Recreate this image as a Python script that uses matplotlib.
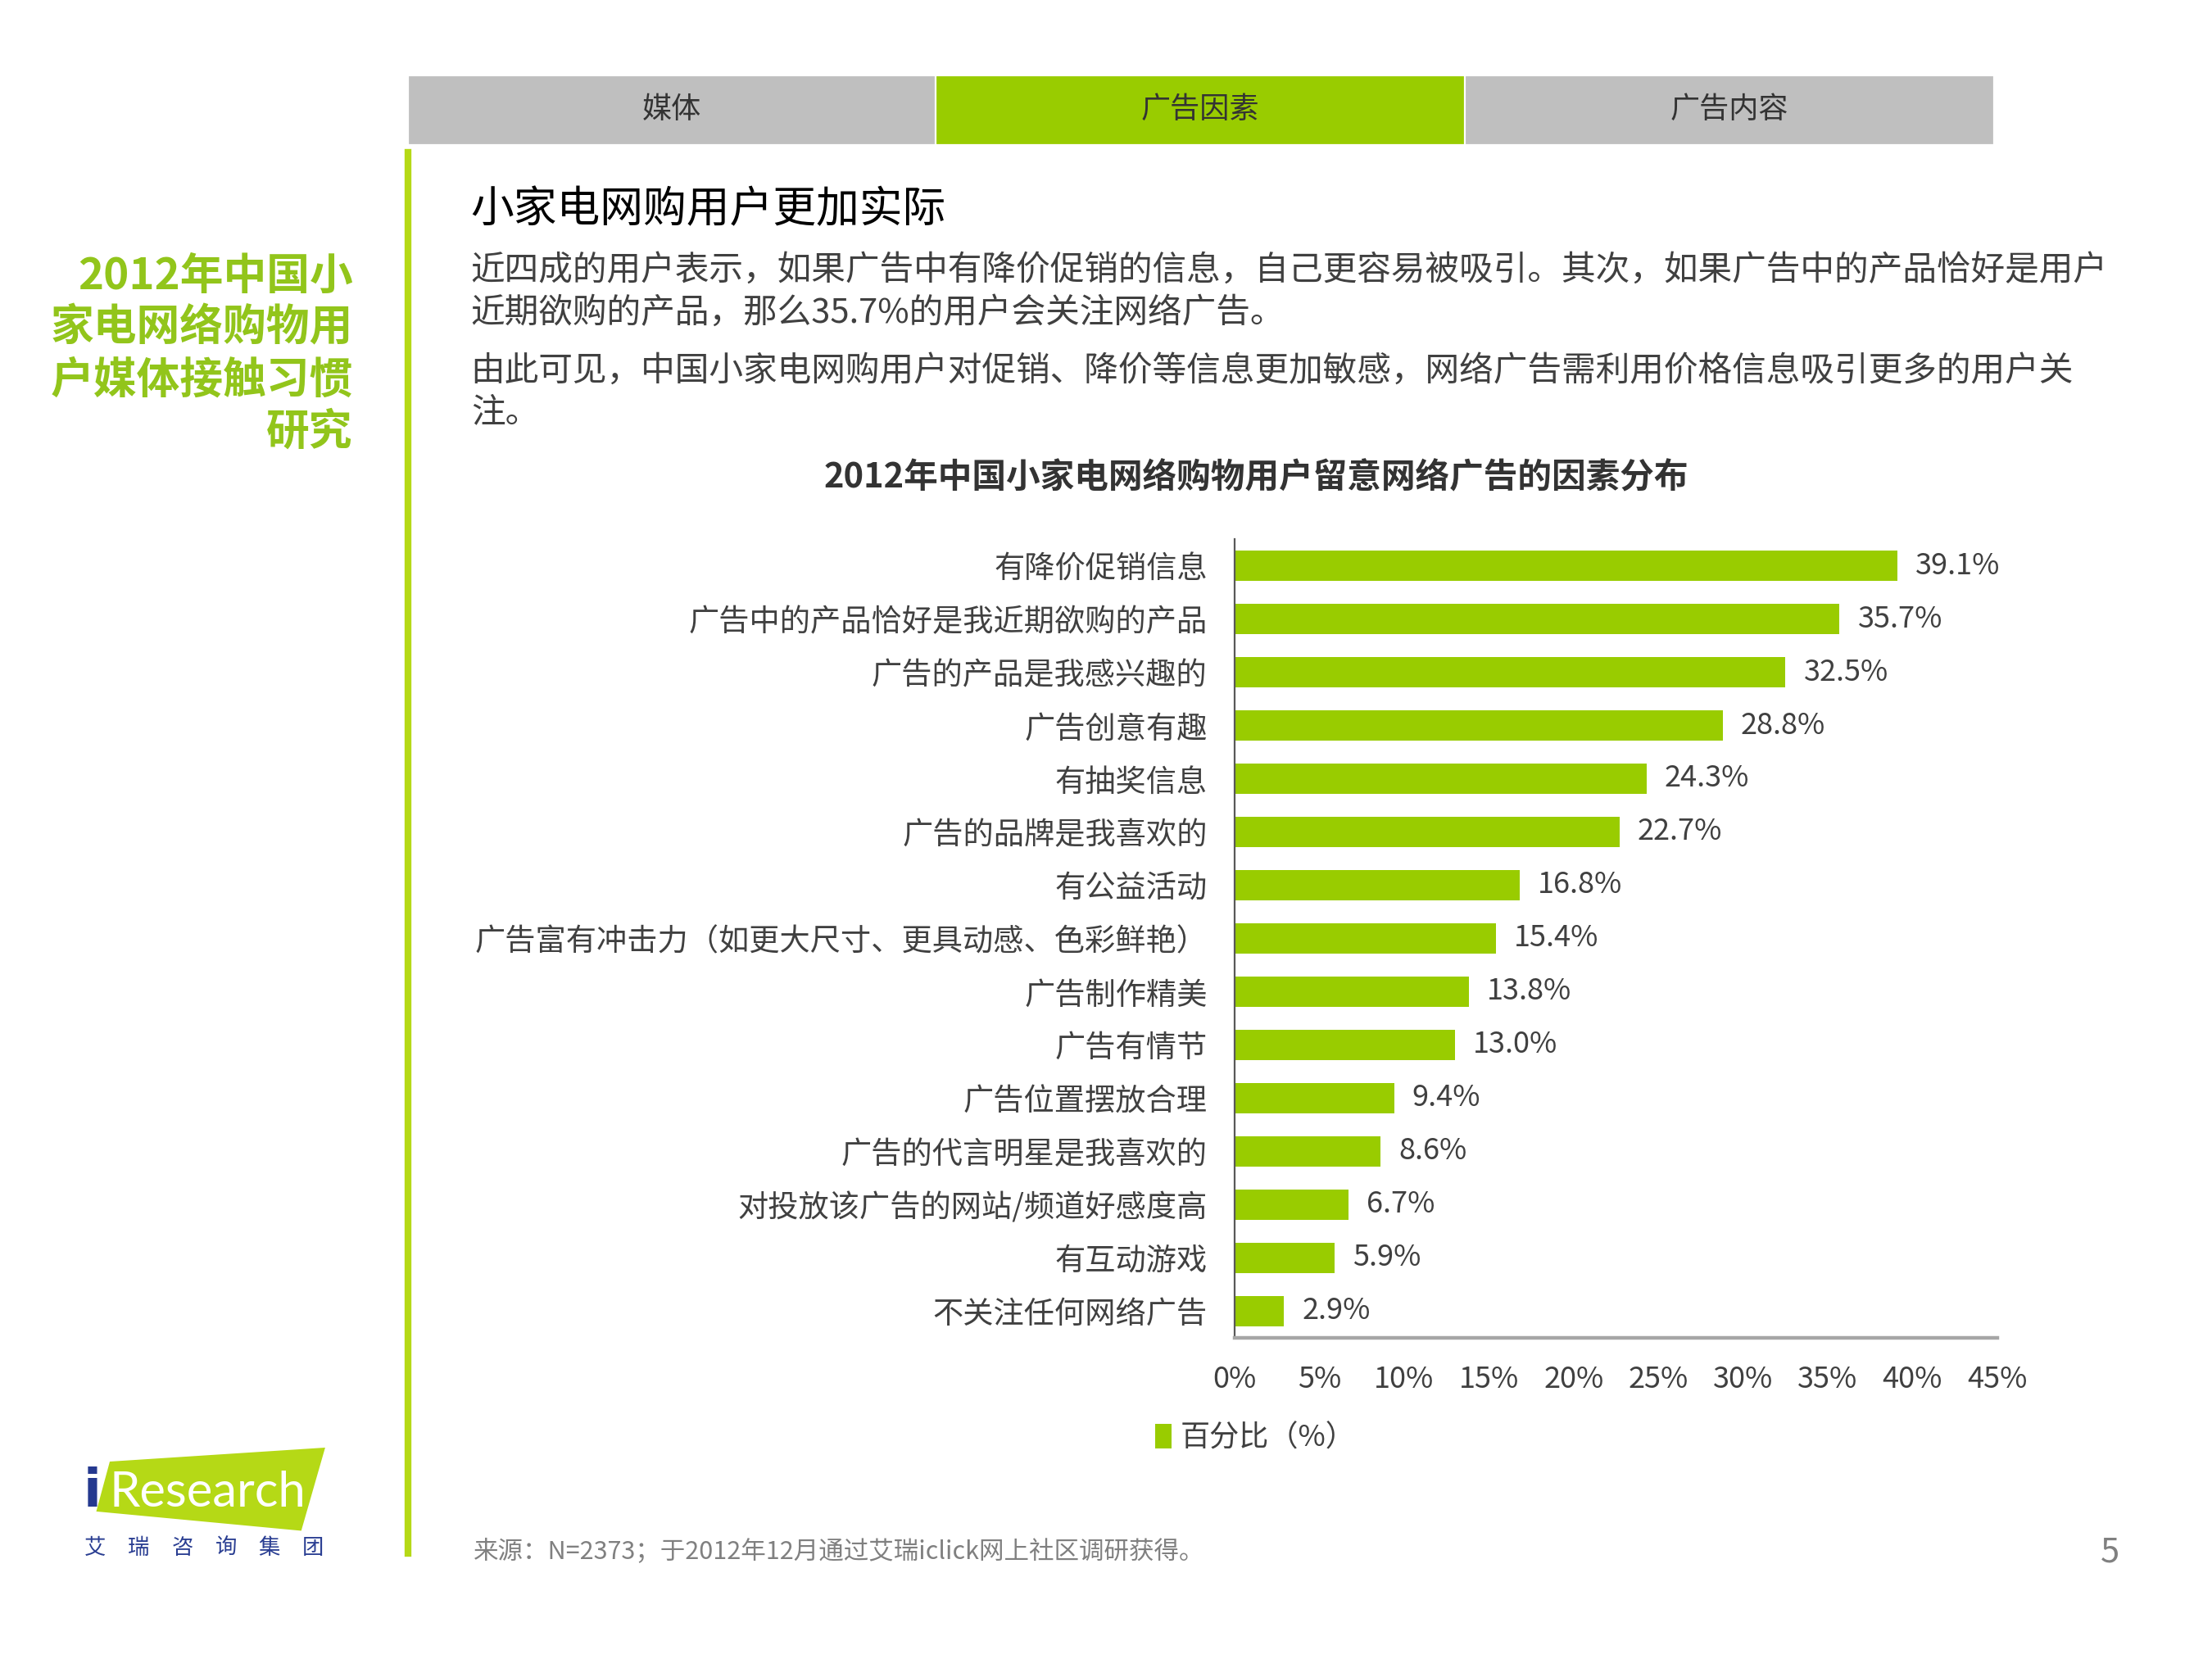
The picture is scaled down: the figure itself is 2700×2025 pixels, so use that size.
import numpy as np
import matplotlib
matplotlib.use("Agg")
import matplotlib.pyplot as plt
from matplotlib.patches import Polygon, Rectangle
from matplotlib.lines import Line2D

plt.rcParams['font.family'] = ['Noto Sans CJK SC', 'DejaVu Sans']

# Chart data
categories = [
    '有降价促销信息',
    '广告中的产品恰好是我近期欲购的产品',
    '广告的产品是我感兴趣的',
    '广告创意有趣',
    '有抽奖信息',
    '广告的品牌是我喜欢的',
    '有公益活动',
    '广告富有冲击力（如更大尺寸、更具动感、色彩鲜艳）',
    '广告制作精美',
    '广告有情节',
    '广告位置摆放合理',
    '广告的代言明星是我喜欢的',
    '对投放该广告的网站/频道好感度高',
    '有互动游戏',
    '不关注任何网络广告',
]
values = [39.1, 35.7, 32.5, 28.8, 24.3, 22.7, 16.8, 15.4, 13.8, 13.0, 9.4, 8.6, 6.7, 5.9, 2.9]
xticks = [0, 5, 10, 15, 20, 25, 30, 35, 40, 45]
series_name = '百分比（%）'

tabs = ['媒体', '广告因素', '广告内容']
side_title = ['2012年中国小', '家电网络购物用', '户媒体接触习惯', '研究']
heading = '小家电网购用户更加实际'
paragraph = [
    '近四成的用户表示，如果广告中有降价促销的信息，自己更容易被吸引。其次，如果广告中的产品恰好是用户',
    '近期欲购的产品，那么35.7%的用户会关注网络广告。',
    '由此可见，中国小家电网购用户对促销、降价等信息更加敏感，网络广告需利用价格信息吸引更多的用户关',
    '注。',
]
chart_title = '2012年中国小家电网络购物用户留意网络广告的因素分布'
source = '来源：N=2373；于2012年12月通过艾瑞iclick网上社区调研获得。'

GREEN = '#99cc00'
LIME = '#b5d916'
GRAY_TAB = '#bfbfbf'
TXT = '#404040'

# Page layout is measured on a 1555 x 1166 grid, converted to figure fractions
W, H = 1555.0, 1166.0
def fx(x):
    return x / W
def fy(y):
    return 1 - y / H

fig = plt.figure(figsize=(13.5, 10.125), dpi=200)

# Tabs on top
tab_edges = [(288, 656), (659, 1028), (1031, 1400)]
for name, (x0, x1) in zip(tabs, tab_edges):
    col = GREEN if name == '广告因素' else GRAY_TAB
    fig.patches.append(Rectangle((fx(x0), fy(100)), fx(x1) - fx(x0), fy(54) - fy(100),
                                 transform=fig.transFigure, color=col, zorder=0))
    fig.text(fx((x0 + x1) / 2), fy(77), name, ha='center', va='center', fontsize=13, color='#333333')

# Vertical green divider
fig.add_artist(Line2D([fx(287), fx(287)], [fy(107), fy(1092)], transform=fig.transFigure,
                      color=LIME, lw=3))

# Left side title
for i, line in enumerate(side_title):
    fig.text(fx(248), fy(194 + i * 36.5), line, ha='right', va='center', fontsize=19,
             fontweight='bold', color='#92c51b')

# Heading and paragraph
fig.text(fx(331), fy(147), heading, ha='left', va='center', fontsize=19, color='black')
for y, line in zip([190, 220, 261, 290], paragraph):
    fig.text(fx(331), fy(y), line, ha='left', va='center', fontsize=15, color=TXT)

fig.text(fx(883), fy(336), chart_title, ha='center', va='center', fontsize=15,
         fontweight='bold', color='#333333')

# Bar chart
ax = fig.add_axes([fx(868), fy(940), fx(1404) - fx(868), fy(379) - fy(940)])
ypos = np.arange(len(categories))
bars = ax.barh(ypos, values, height=0.57, color=GREEN, label=series_name)
ax.set_ylim(len(categories) - 0.5, -0.5)
ax.set_xlim(0, 45)
ax.set_yticks(ypos)
ax.set_yticklabels(categories, fontsize=13.4, color=TXT)
ax.set_xticks(xticks)
ax.set_xticklabels([f'{t}%' for t in xticks], fontsize=13, color=TXT)
ax.tick_params(axis='both', length=0)
ax.tick_params(axis='y', pad=12)
ax.tick_params(axis='x', pad=12)
for side in ['top', 'right']:
    ax.spines[side].set_visible(False)
ax.spines['left'].set_color('#595959')
ax.spines['left'].set_linewidth(0.8)
ax.spines['bottom'].set_color('#a6a6a6')
ax.spines['bottom'].set_linewidth(1.6)

for b, v in zip(bars, values):
    ax.annotate(f'{v:.1f}%', (v, b.get_y() + b.get_height() / 2), xytext=(8, 0),
                textcoords='offset points', ha='left', va='center', fontsize=13, color=TXT)

fig.legend(handles=[bars], loc='center left', bbox_to_anchor=(fx(812), fy(1011)),
           frameon=False, fontsize=13, handlelength=0.55, handleheight=0.9,
           handletextpad=0.3, borderpad=0, borderaxespad=0, labelcolor=TXT)

# Footer
fig.text(fx(333), fy(1091), source, ha='left', va='center', fontsize=11, color='#808080')
fig.text(fx(1483), fy(1091), '5', ha='center', va='center', fontsize=15, color='#808080')

# iResearch logo
logo = Polygon([(fx(77.8), fy(1028)), (fx(227.5), fy(1018.3)), (fx(211.2), fy(1075)),
                (fx(68.7), fy(1061.6))], closed=True, transform=fig.transFigure,
               color=LIME, zorder=1)
fig.patches.append(logo)
fig.text(fx(58.5), fy(1059), 'i', ha='left', va='baseline', fontsize=23, fontweight='bold',
         color='#25398f', family='DejaVu Sans')
fig.text(fx(77), fy(1059), 'Research', ha='left', va='baseline', fontsize=21.5,
         color='white', family='Lato')
for i, ch in enumerate('艾瑞咨询集团'):
    fig.text(fx(67 + i * 30.6), fy(1088), ch, ha='center', va='center', fontsize=9.5,
             color='#2a3e92')

fig.savefig('out.png', dpi=200, facecolor='white')
